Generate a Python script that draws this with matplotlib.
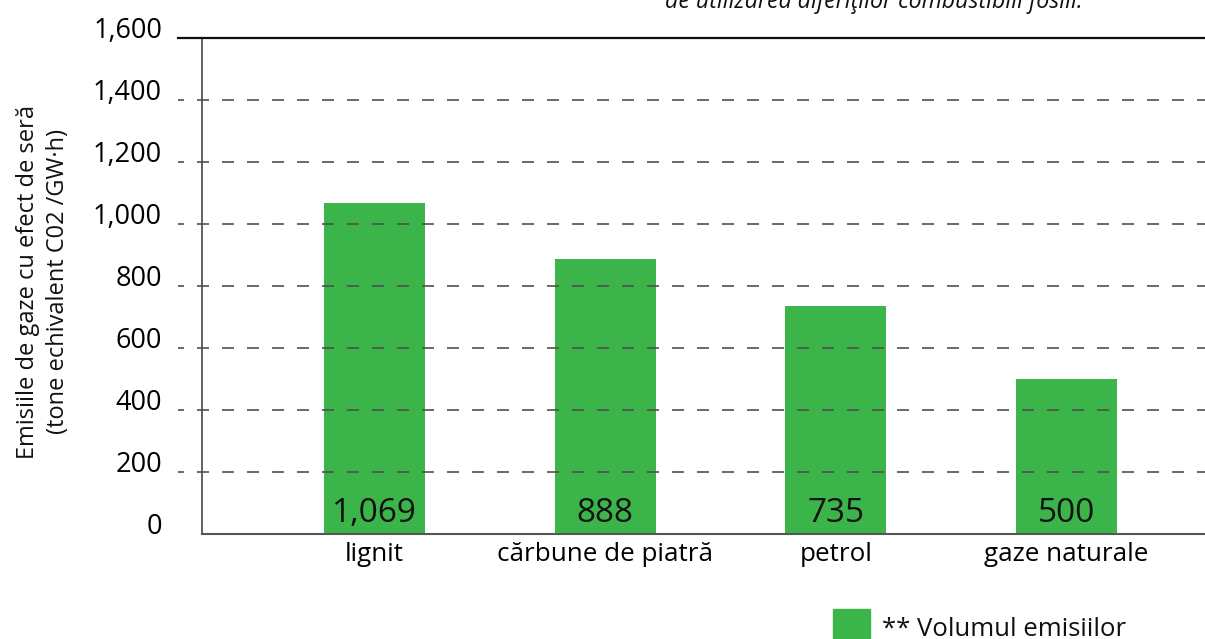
import matplotlib
matplotlib.use("Agg")
import matplotlib.pyplot as plt
from matplotlib.patches import Rectangle

plt.rcParams['font.family'] = ['Open Sans', 'DejaVu Sans']
plt.rcParams['lines.scale_dashes'] = False

categories = ["lignit", "cărbune de piatră", "petrol", "gaze naturale"]
emissions = [1069, 888, 735, 500]
value_labels = ["1,069", "888", "735", "500"]
y_ticks = [0, 200, 400, 600, 800, 1000, 1200, 1400, 1600]
y_tick_labels = ["0", "200", "400", "600", "800", "1,000", "1,200", "1,400", "1,600"]

W, H = 1205, 639
DPI = 100
PX = 72.0 / DPI  # points per pixel

fig = plt.figure(figsize=(W / DPI, H / DPI), dpi=DPI)
ax = fig.add_axes([202 / W, 1 - 534 / H, 1 - 202 / W, (534 - 38) / H])

green = "#3bb54a"
x = list(range(len(categories)))
bars = ax.bar(x, emissions, width=0.438, color=green, zorder=2)

ax.set_xlim(-0.748, 3.600)
ax.set_ylim(0, 1600)

# dashed gridlines (drawn above bars), starting left of the axis
x_start = (178 - 202) / (W - 202)
for yv in y_ticks[1:-1]:
    ax.plot([x_start, 1.0], [yv, yv], transform=ax.get_yaxis_transform(),
            color="#505050", lw=1.2, clip_on=False, zorder=3,
            linestyle=(6 * PX, (12 * PX, 13 * PX)))
# solid top line at the maximum
ax.plot([x_start, 1.0], [1600, 1600], transform=ax.get_yaxis_transform(),
        color="#111111", lw=1.6, clip_on=False, zorder=3)

for s in ["top", "right"]:
    ax.spines[s].set_visible(False)
ax.spines["left"].set_color("#555555")
ax.spines["left"].set_linewidth(1.3)
ax.spines["bottom"].set_color("#555555")
ax.spines["bottom"].set_linewidth(1.5)

ax.set_yticks(y_ticks)
ax.set_yticklabels(y_tick_labels, fontsize=19.5, va="baseline")
ax.tick_params(axis="y", length=0, pad=40 * PX)
ax.set_xticks(x)
ax.set_xticklabels(categories, fontsize=18.7)
ax.tick_params(axis="x", length=0, pad=5.5)

# values written inside the bars, near the base
for xi, v, lab in zip(x, emissions, value_labels):
    ax.annotate(lab, xy=(xi, 0), xytext=(0, 12 * PX), textcoords="offset points",
                ha="center", va="baseline", fontsize=24, color="#111111", zorder=4)

# y-axis title (two lines)
fig.text(43 / W, 1 - 282 / H,
         "Emisiile de gaze cu efect de seră\n(tone echivalent C02 /GW·h)",
         rotation=90, ha="center", va="center", fontsize=17,
         linespacing=1.3, color="#111111")

# caption line at the top edge
fig.text(1083 / W, 1 - 8 / H, "de utilizarea diferiţilor combustibili fosili.",
         ha="right", va="baseline", fontsize=16.7, style="italic", color="#111111")

# legend
fig.patches.append(Rectangle((833 / W, 1 - 645 / H), 37 / W, 36 / H,
                             transform=fig.transFigure, color=green))
fig.text(882 / W, 1 - 636 / H, "** Volumul emisiilor", ha="left", va="baseline",
         fontsize=18.5, color="#111111")

fig.savefig("out.png", dpi=DPI)
